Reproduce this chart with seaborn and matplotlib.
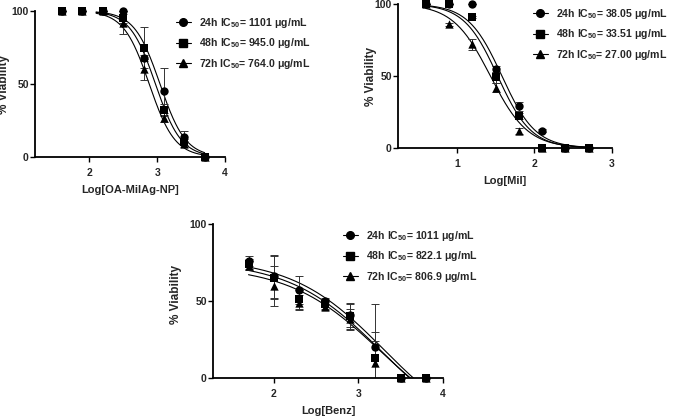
import numpy as np
import pandas as pd
import matplotlib
matplotlib.use("Agg")
import matplotlib.pyplot as plt
import seaborn as sns
from matplotlib.lines import Line2D

# 스타일 / 폰트
sns.set_theme(style="ticks")
plt.rcParams['font.family'] = ['Liberation Sans', 'DejaVu Sans']
plt.rcParams['font.weight'] = 'bold'
plt.rcParams['axes.labelweight'] = 'bold'
plt.rcParams['mathtext.fontset'] = 'custom'
plt.rcParams['mathtext.rm'] = 'Liberation Sans:bold'
plt.rcParams['mathtext.bf'] = 'Liberation Sans:bold'
plt.rcParams['mathtext.default'] = 'bf'

times = ['24h', '48h', '72h']
markers = ['o', 's', '^']

# OA-MilAg-NP
oa_logc = [1.6, 1.9, 2.2, 2.5, 2.8, 3.1, 3.4, 3.7]
oa_24 = [100, 100, 100, 100, 68, 45, 14, 0]
oa_48 = [100, 100, 100, 95, 75, 32, 10, 0]
oa_72 = [100, 100, 100, 92, 60, 27, 9, 0]
oa_24_sd = [0, 0, 0, 0, 2, 16, 4, 0]
oa_48_sd = [0, 0, 0, 3, 14, 4, 2, 0]
oa_72_sd = [0, 0, 0, 8, 7, 3, 2, 0]
oa_ic50 = ['1101', '945.0', '764.0']
oa_hill = [2.3, 2.3, 2.3]

# Mil
mil_logc = [0.6, 0.9, 1.2, 1.5, 1.8, 2.1, 2.4, 2.7]
mil_24 = [100, 100, 100, 55, 29, 12, 0, 0]
mil_48 = [100, 100, 91, 49, 22, 0, 0, 0]
mil_72 = [100, 86, 72, 42, 12, 0, 0, 0]
mil_24_sd = [0, 0, 0, 2, 3, 1, 0, 0]
mil_48_sd = [0, 0, 1, 4, 2, 0, 0, 0]
mil_72_sd = [0, 1, 4, 3, 2, 0, 0, 0]
mil_ic50 = ['38.05', '33.51', '27.00']
mil_hill = [2.0, 2.0, 1.8]

# Benz
benz_logc = [1.7, 2.0, 2.3, 2.6, 2.9, 3.2, 3.5, 3.8]
benz_24 = [76, 66, 57, 50, 41, 20, 0, 0]
benz_48 = [74, 65, 51, 48, 40, 13, 0, 0]
benz_72 = [73, 60, 49, 46, 38, 10, 0, 0]
benz_24_sd = [3, 14, 9, 2, 8, 28, 0, 0]
benz_48_sd = [3, 14, 6, 3, 8, 17, 0, 0]
benz_72_sd = [3, 13, 5, 2, 7, 14, 0, 0]
benz_ic50 = ['1011', '822.1', '806.9']
benz_top = [78, 76, 73]
benz_bottom = [-41, -41, -38]
benz_mid = [3.3, 3.27, 3.26]
benz_hill = [0.8, 0.8, 0.8]


def logistic(x, top, bottom, mid, hill):
    return bottom + (top - bottom) / (1 + 10 ** ((x - mid) * hill))


def draw_panel(ax, logc, ys, sds, fits, fit_range, xlim, xticks, xlabel):
    xs = np.linspace(fit_range[0], fit_range[1], 200)
    for y, sd, fit, m in zip(ys, sds, fits, markers):
        curve = pd.DataFrame({'x': xs, 'y': logistic(xs, *fit)})
        sns.lineplot(data=curve, x='x', y='y', color='black', lw=0.8, ax=ax)
        ax.errorbar(logc, y, yerr=sd, fmt='none', ecolor='#333333',
                    elinewidth=0.7, capsize=3, capthick=0.7)
        sns.scatterplot(x=logc, y=y, marker=m, color='black', s=36,
                        linewidth=0, ax=ax, clip_on=False, zorder=3)
    ax.set_xlim(*xlim)
    ax.set_ylim(0, 100)
    ax.set_xticks(xticks)
    ax.set_yticks([0, 50, 100])
    ax.set_xlabel(xlabel, fontsize=8, fontweight='bold', labelpad=5)
    ax.set_ylabel('')
    sns.despine(ax=ax)
    for s in ['left', 'bottom']:
        ax.spines[s].set_linewidth(1.3)
        ax.spines[s].set_color('black')
    ax.tick_params(axis='both', length=3.5, width=1.0, labelsize=7.5, color='black')
    ax.tick_params(axis='y', pad=1)
    ax.tick_params(axis='x', pad=4.5)
    for t in ax.get_xticklabels() + ax.get_yticklabels():
        t.set_fontweight('bold')


def legend_for(ax, ic50s, anchor):
    handles = [Line2D([0], [0], color='black', lw=0.8, marker=m, markersize=5.5)
               for m in markers]
    labels = [f'{t} IC$_{{50}}$= {v} μg/mL' for t, v in zip(times, ic50s)]
    ax.legend(handles, labels, loc='upper left', bbox_to_anchor=anchor,
              bbox_transform=fig.transFigure, frameon=False,
              handlelength=1.4, handletextpad=0.75, labelspacing=0.6,
              borderpad=0, borderaxespad=0, prop={'weight': 'bold', 'size': 7.6})


fig = plt.figure(figsize=(6.76, 4.2), dpi=100)

ax1 = fig.add_axes([35 / 676, 1 - 157 / 420, 190 / 676, 146 / 420])
oa_fits = [(100, 0, np.log10(float(v)), h) for v, h in zip(oa_ic50, oa_hill)]
draw_panel(ax1, oa_logc, [oa_24, oa_48, oa_72], [oa_24_sd, oa_48_sd, oa_72_sd],
           oa_fits, (2.1, 3.7), (1.2, 4), [2, 3, 4], 'Log[OA-MilAg-NP]')
legend_for(ax1, oa_ic50, (176 / 676, 1 - 16 / 420))

ax2 = fig.add_axes([398 / 676, 1 - 148 / 420, 214 / 676, 144 / 420])
mil_fits = [(100, 0, np.log10(float(v)), h) for v, h in zip(mil_ic50, mil_hill)]
draw_panel(ax2, mil_logc, [mil_24, mil_48, mil_72], [mil_24_sd, mil_48_sd, mil_72_sd],
           mil_fits, (0.6, 2.7), (0.24, 3), [1, 2, 3], 'Log[Mil]')
legend_for(ax2, mil_ic50, (533 / 676, 1 - 7 / 420))

ax3 = fig.add_axes([213 / 676, 1 - 378 / 420, 230 / 676, 154 / 420])
benz_fits = list(zip(benz_top, benz_bottom, benz_mid, benz_hill))
draw_panel(ax3, benz_logc, [benz_24, benz_48, benz_72], [benz_24_sd, benz_48_sd, benz_72_sd],
           benz_fits, (1.7, 3.8), (1.28, 4), [2, 3, 4], 'Log[Benz]')
legend_for(ax3, benz_ic50, (343 / 676, 1 - 229 / 420))

# y 축 라벨
fig.text(4.5 / 676, 1 - 84 / 420, '% Viability', rotation=90, ha='center', va='center',
         fontsize=8.5, fontweight='bold')
fig.text(371 / 676, 1 - 77 / 420, '% Viability', rotation=90, ha='center', va='center',
         fontsize=8.5, fontweight='bold')
fig.text(176 / 676, 1 - 295 / 420, '% Viability', rotation=90, ha='center', va='center',
         fontsize=8.5, fontweight='bold')

fig.savefig('out.png', dpi=100)
